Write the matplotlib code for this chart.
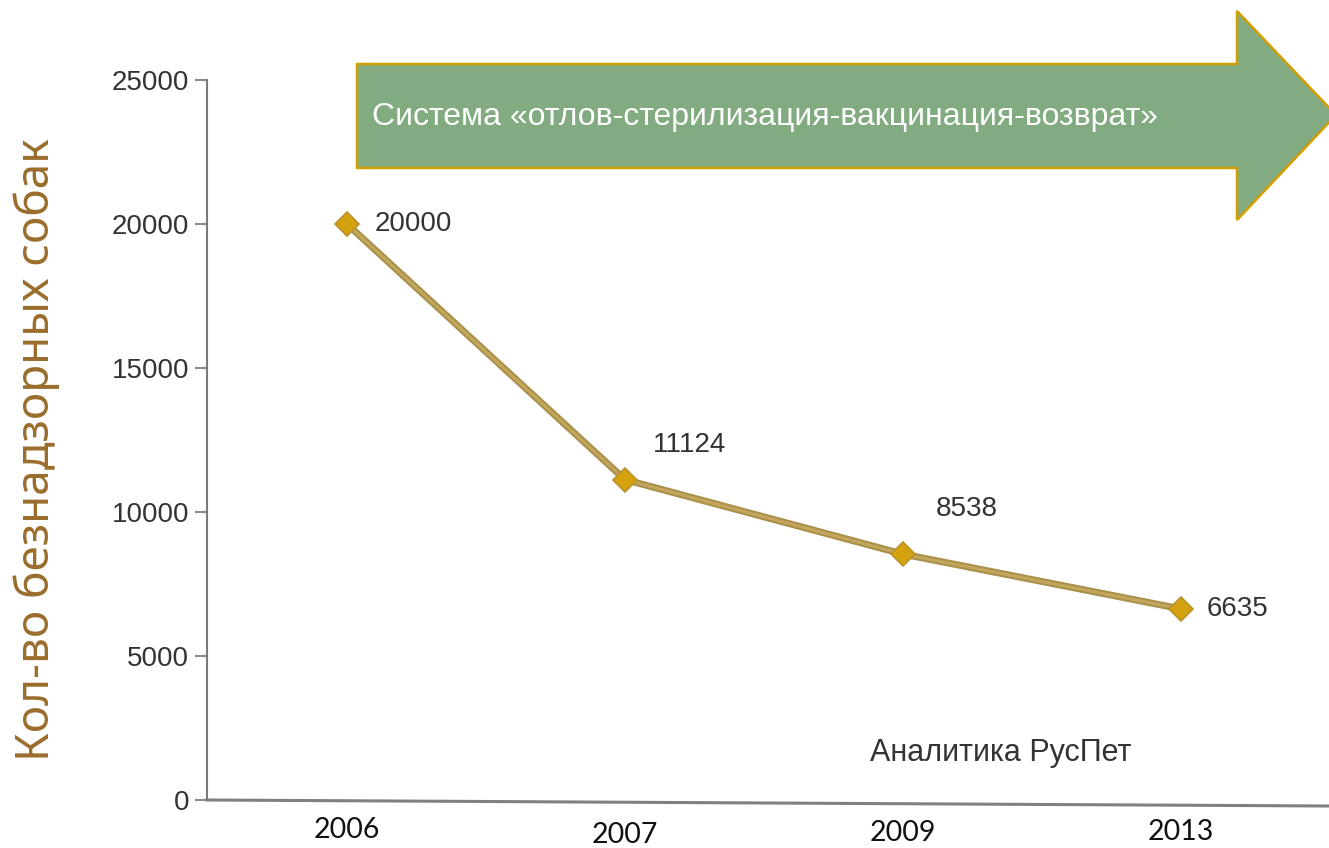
import matplotlib
matplotlib.use("Agg")
import matplotlib.pyplot as plt
from matplotlib.patches import Polygon

years = ["2006", "2007", "2009", "2013"]
dogs = [20000, 11124, 8538, 6635]
yticks = [0, 5000, 10000, 15000, 20000, 25000]
ylabel = "Кол-во безнадзорных собак"
banner = "Система «отлов-стерилизация-вакцинация-возврат»"
source = "Аналитика РусПет"

W, H = 1329, 848
fig = plt.figure(figsize=(W / 100, H / 100), dpi=100)
ax = fig.add_axes([207 / W, 48 / H, 1122 / W, 720 / H])

x = list(range(len(years)))
ax.plot(x, dogs, color="#a8904a", lw=5, solid_capstyle="round", zorder=3)
ax.plot(x, dogs, color="#c2a65c", lw=2.2, zorder=3)
ax.plot(x, dogs, ls="none", marker="D", ms=12, mfc="#d4a10f", mec="#b8922a", mew=1.2, zorder=4)

ax.set_xlim(-140 / 278, (1329 - 347) / 278)
ax.set_ylim(0, 25000)

tick_font = dict(family="Liberation Sans", size=20, color="#333333")
ax.set_yticks(yticks)
ax.set_yticklabels([str(t) for t in yticks], **tick_font)
ax.tick_params(axis="y", length=9, width=1.5, color="#8a8a8a", pad=4)
ax.set_xticks([])

for s in ["top", "right", "bottom"]:
    ax.spines[s].set_visible(False)
ax.spines["left"].set_color("#7a7a7a")
ax.spines["left"].set_linewidth(1.5)

# slightly tilted zero line
ax.plot([0, 1], [0, -6 / 720], transform=ax.transAxes, color="#808080", lw=2.2, clip_on=False, zorder=2)

# data labels
label_offsets = [(28, 0), (28, 35), (33, 45), (26, 0)]
for xi, v, (dx, dy) in zip(x, dogs, label_offsets):
    ax.annotate(str(v), xy=(xi, v), xytext=(dx, dy), textcoords="offset pixels",
                ha="left", va="center", **tick_font)

# year labels (staggered)
year_offsets = [-30, -35, -33, -32]
for xi, yr, dy in zip(x, years, year_offsets):
    ax.annotate(yr, xy=(xi, 0), xytext=(0, dy), textcoords="offset pixels",
                ha="center", va="center", family="Lato", size=20.5, color="#111111",
                annotation_clip=False)

# y label
fig.text(37 / W, 1 - 450 / H, ylabel, rotation=90, ha="center", va="center",
         family="Noto Sans", weight="light", size=33, color="#9a6d2c")

# source
fig.text(870 / W, 1 - 753 / H, source, ha="left", va="center",
         family="Liberation Sans", size=22, color="#333333")

# banner arrow
pts = [(357, 64), (1237, 64), (1237, 11), (1336, 115), (1237, 220), (1237, 168), (357, 168)]
poly = Polygon([(px / W, 1 - py / H) for px, py in pts], closed=True,
               transform=fig.transFigure, facecolor="#82ab82", edgecolor="#d39e00",
               lw=1.8, zorder=5)
fig.patches.append(poly)
fig.text(372 / W, 1 - 117 / H, banner, ha="left", va="center",
         family="Liberation Sans", size=23, color="white", zorder=6)

fig.savefig("out.png", dpi=100, facecolor="white")
